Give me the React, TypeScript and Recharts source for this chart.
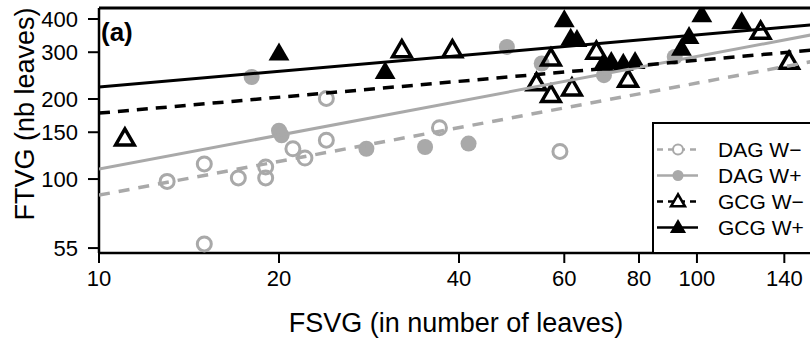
import React from 'react';
import { ScatterChart, Scatter, XAxis, YAxis, ReferenceLine, Legend, Label } from 'recharts';

const xTicks = [10, 20, 40, 60, 80, 100, 140];
const yTicks = [55, 100, 150, 200, 300, 400];

// DAG W− : open grey circles
const dagWmX = [13.0, 15.0, 15.0, 17.1, 19.0, 19.0, 21.1, 22.1, 24.0, 24.0, 37.1, 59.0];
const dagWmY = [98, 114, 57, 101, 111, 101, 130, 120, 140, 201, 156, 127];

// DAG W+ : filled grey circles
const dagWpX = [18.0, 20.0, 20.2, 28.0, 35.1, 41.5, 48.1, 55.0, 69.9, 91.8];
const dagWpY = [242, 152, 146, 130, 132, 136, 314, 272, 246, 288];

// GCG W− : open black triangles
const gcgWmX = [11.05, 32.1, 39.0, 53.9, 57.0, 57.0, 61.8, 67.9, 76.7, 127.8, 142.6];
const gcgWmY = [142, 305, 305, 229, 284, 207, 219, 301, 236, 358, 276];

// GCG W+ : filled black triangles
const gcgWpX = [20.0, 30.1, 60.0, 61.5, 63.0, 69.7, 71.9, 75.3, 78.8, 94.2, 97.0, 101.9, 118.8];
const gcgWpY = [297, 253, 396, 338, 334, 272, 276, 272, 276, 310, 343, 414, 390];

// fitted lines (log-log), values at the two ends of the x range
const fitX = [10, 160];
const dagWmFit = [87, 280];
const dagWpFit = [109, 353];
const gcgWmFit = [177, 307];
const gcgWpFit = [222, 382];

const GREY = '#a9a9a9';

const zip = (xs: number[], ys: number[]) => xs.map((x, i) => ({ x, y: ys[i] }));

const OpenCircle = (props: any) => (
  <circle cx={props.cx} cy={props.cy} r={7} fill="none" stroke={GREY} strokeWidth={3} />
);
const FilledCircle = (props: any) => (
  <circle cx={props.cx} cy={props.cy} r={8} fill={GREY} />
);
const triPath = (cx: number, cy: number, h: number) =>
  `M${cx},${cy - h * 0.6} L${cx - h * 0.58},${cy + h * 0.4} L${cx + h * 0.58},${cy + h * 0.4} Z`;
const OpenTriangle = (props: any) => (
  <path d={triPath(props.cx, props.cy, 16)} fill="none" stroke="#000" strokeWidth={3.5} strokeLinejoin="miter" />
);
const FilledTriangle = (props: any) => (
  <path d={triPath(props.cx, props.cy, 18)} fill="#000" />
);
const NoDot = () => <g />;

const legendRows = [
  { name: 'DAG W\u2212', color: GREY, dash: '6 5', kind: 'openCircle' },
  { name: 'DAG W+', color: GREY, dash: undefined, kind: 'filledCircle' },
  { name: 'GCG W\u2212', color: '#000', dash: '6 5', kind: 'openTriangle' },
  { name: 'GCG W+', color: '#000', dash: undefined, kind: 'filledTriangle' },
];

const renderLegend = () => (
  <svg width={200} height={132} style={{ display: 'block' }}>
    <rect x={1} y={1} width={197} height={130} fill="#fff" stroke="#000" strokeWidth={2} />
    {legendRows.map((r, i) => {
      const base = 35 + i * 26;
      const cy = base - 7.5;
      return (
        <g key={r.name}>
          <line x1={5} x2={46} y1={cy} y2={cy} stroke={r.color} strokeWidth={2.5} strokeDasharray={r.dash} />
          {r.kind === 'openCircle' && <circle cx={26} cy={cy} r={5} fill="#fff" stroke={r.color} strokeWidth={2} />}
          {r.kind === 'filledCircle' && <circle cx={26} cy={cy} r={5.5} fill={r.color} />}
          {r.kind === 'openTriangle' && <path d={triPath(26, cy, 12)} fill="#fff" stroke="#000" strokeWidth={2.5} />}
          {r.kind === 'filledTriangle' && <path d={triPath(26, cy, 14)} fill="#000" />}
          <text x={66} y={base} fontSize={21} fill="#000">
            {r.name}
          </text>
        </g>
      );
    })}
  </svg>
);

export default function App() {
  return (
    <div
      style={{
        position: 'fixed',
        left: 0,
        top: 0,
        width: 810,
        height: 342,
        overflow: 'hidden',
        background: '#fff',
        fontFamily: '"Liberation Sans", Arial, sans-serif',
      }}
    >
      <ScatterChart width={819} height={342} margin={{ top: 8, right: 0, bottom: 0, left: 0 }}>
        <XAxis
          dataKey="x"
          type="number"
          scale="log"
          domain={[10, 160]}
          allowDataOverflow
          ticks={xTicks}
          interval={0}
          height={89}
          tickSize={10}
          tickMargin={7}
          tick={{ fontSize: 22, fill: '#000' }}
          axisLine={{ stroke: '#000', strokeWidth: 2.5 }}
          tickLine={{ stroke: '#000', strokeWidth: 2 }}
        >
          <Label
            content={() => (
              <text x={456} y={332} textAnchor="middle" fontSize={27} fill="#000">
                FSVG (in number of leaves)
              </text>
            )}
          />
        </XAxis>
        <YAxis
          dataKey="y"
          type="number"
          scale="log"
          domain={[52.7, 440]}
          allowDataOverflow
          ticks={yTicks}
          interval={0}
          width={99}
          tickSize={11}
          tickMargin={10}
          tick={{ fontSize: 22, fill: '#000' }}
          axisLine={{ stroke: '#000', strokeWidth: 2.5 }}
          tickLine={{ stroke: '#000', strokeWidth: 2 }}
        >
          <Label
            content={() => (
              <text
                x={34}
                y={114}
                transform="rotate(-90, 34, 114)"
                textAnchor="middle"
                fontSize={27}
                fill="#000"
              >
                FTVG (nb leaves)
              </text>
            )}
          />
        </YAxis>
        <ReferenceLine y={440} stroke="#000" strokeWidth={3} />

        <Scatter name="DAG W−" data={zip(dagWmX, dagWmY)} shape={OpenCircle} isAnimationActive={false} legendType="none" />
        <Scatter name="DAG W+" data={zip(dagWpX, dagWpY)} shape={FilledCircle} isAnimationActive={false} legendType="none" />
        <Scatter name="GCG W−" data={zip(gcgWmX, gcgWmY)} shape={OpenTriangle} isAnimationActive={false} legendType="none" />
        <Scatter name="GCG W+" data={zip(gcgWpX, gcgWpY)} shape={FilledTriangle} isAnimationActive={false} legendType="none" />

        <Scatter data={zip(fitX, dagWmFit)} shape={NoDot} fill={GREY} line={{ stroke: GREY, strokeWidth: 3.5, strokeDasharray: '11 9' }} isAnimationActive={false} legendType="none" />
        <Scatter data={zip(fitX, dagWpFit)} shape={NoDot} fill={GREY} line={{ stroke: GREY, strokeWidth: 3 }} isAnimationActive={false} legendType="none" />
        <Scatter data={zip(fitX, gcgWmFit)} shape={NoDot} fill="#000" line={{ stroke: '#000', strokeWidth: 3.5, strokeDasharray: '11 8' }} isAnimationActive={false} legendType="none" />
        <Scatter data={zip(fitX, gcgWpFit)} shape={NoDot} fill="#000" line={{ stroke: '#000', strokeWidth: 3 }} isAnimationActive={false} legendType="none" />

        <text x={101} y={41} fontSize={26} fontWeight="bold" fill="#000">
          (a)
        </text>

        <Legend
          layout="vertical"
          align="center"
          verticalAlign="middle"
          content={renderLegend}
          wrapperStyle={{ left: 652, top: 122, width: 200, height: 132 }}
        />
      </ScatterChart>
    </div>
  );
}
